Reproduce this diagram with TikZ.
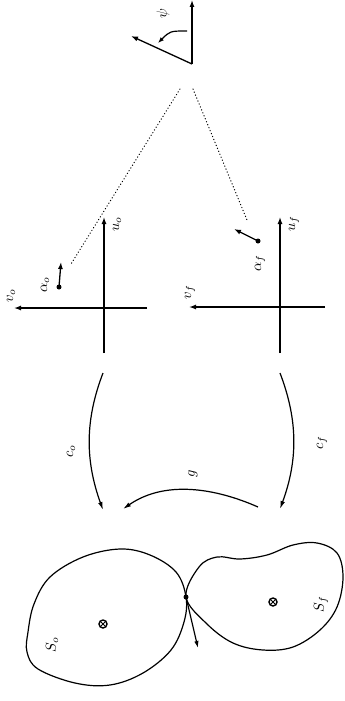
\documentclass[tikz,border=0pt]{standalone}
\usetikzlibrary{arrows.meta}
\begin{document}
\begin{tikzpicture}[x=1pt,y=-1pt,
  axis/.style={line width=1.3pt,-{Latex[length=7pt,width=5pt]}},
  curvarrow/.style={line width=1.2pt,-{Latex[length=8pt,width=4.5pt]}},
  dots/.style={line width=1.1pt,dash pattern=on 0.4pt off 2.8pt,line cap=round},
  lab/.style={rotate=90,scale=1.45,inner sep=0pt},
  blob/.style={line width=1.2pt},
  dotpt/.style={circle,fill,inner sep=0pt,minimum size=5pt},
  centre/.style={circle,draw,line width=1.4pt,inner sep=0pt,minimum size=8pt,path picture={\draw[line width=1pt] (path picture bounding box.south west) -- (path picture bounding box.north east) (path picture bounding box.north west) -- (path picture bounding box.south east);}}]
\useasboundingbox (0,0) rectangle (345,701);
% psi frame
\coordinate (P0) at (192,64);
\coordinate (P1) at (192,0);
\coordinate (P2) at (131,36);
\draw[axis] (P0) -- (P1);
\draw[axis] (P0) -- (P2);
\coordinate (PA) at (187,31);
\coordinate (PB) at (158,43);
\draw[line width=1.2pt,-{Latex[length=6pt,width=4.5pt]}] (PA) .. controls (170,31) .. (PB);
\node[lab] (psi) at (163,14) {$\psi$};
% dotted lines
\coordinate (D1) at (180,89);
\coordinate (D2) at (193,89);
\coordinate (Do) at (71,264);
\coordinate (Df) at (247,220);
\draw[dots] (D1) -- (Do);
\draw[dots] (D2) -- (Df);
% frame o
\coordinate (Oo) at (104,308);
\coordinate (Ouo) at (104,217);
\coordinate (Obo) at (104,353);
\coordinate (Ovo) at (14,308);
\coordinate (Oro) at (147,308);
\draw[axis] (Obo) -- (Ouo);
\draw[axis] (Oro) -- (Ovo);
\node[lab] (uo) at (117,224) {$u_o$};
\node[lab] (vo) at (11,296) {$v_o$};
\node[lab] (ao) at (45,285) {$\alpha_o$};
\node[dotpt] (ado) at (59,287) {};
\coordinate (aeo) at (61,262);
\draw[axis] (ado.center) -- (aeo);
% frame f
\coordinate (Of) at (280,307);
\coordinate (Ouf) at (280,217);
\coordinate (Obf) at (280,353);
\coordinate (Ovf) at (189,307);
\coordinate (Orf) at (325,307);
\draw[axis] (Obf) -- (Ouf);
\draw[axis] (Orf) -- (Ovf);
\node[lab] (uf) at (294,224) {$u_f$};
\node[lab] (vf) at (190,292) {$v_f$};
\node[lab] (af) at (260,263) {$\alpha_f$};
\node[dotpt] (adf) at (258,241) {};
\coordinate (aef) at (234,229);
\draw[axis] (adf.center) -- (aef);
% curved maps
\coordinate (co1) at (103,373);
\coordinate (co2) at (103,510);
\draw[curvarrow] (co1) .. controls (85,420) and (85,460) .. (co2);
\node[lab] (co) at (71,451) {$c_o$};
\coordinate (cf1) at (280,373);
\coordinate (cf2) at (280,509);
\draw[curvarrow] (cf1) .. controls (298,420) and (298,460) .. (cf2);
\node[lab] (cf) at (322,443) {$c_f$};
\coordinate (g1) at (258,507);
\coordinate (g2) at (123,509);
\draw[curvarrow] (g1) .. controls (215,488) and (165,480) .. (g2);
\node[lab] (g) at (193,474) {$g$};
% blobs
\coordinate (C) at (186,597);
\draw[blob] plot[smooth cycle,tension=0.6] coordinates {(186,597) (176,572) (150,555) (120,549) (83,557) (50,577) (34,604) (28,632) (27,652) (38,669) (75,683) (110,685) (143,673) (171,650) (184,622)};
\draw[blob] plot[smooth cycle,tension=0.6] coordinates {(186,597) (199,567) (217,557) (240,559) (267,555) (293,545) (317,543) (337,553) (343,577) (337,607) (320,630) (293,647) (263,650) (233,643) (207,624)};
\node[dotpt] (cp) at (C) {};
\coordinate (ce) at (198,648);
\draw[line width=1.2pt,-{Latex[length=7pt,width=4.5pt]}] (cp.center) -- (ce);
% centres
\node[centre] (Zo) at (103,624) {};
\node[centre] (Zf) at (273,602) {};
\node[lab] (So) at (52,645) {$S_o$};
\node[lab] (Sf) at (321,604) {$S_f$};
\end{tikzpicture}
\end{document}
